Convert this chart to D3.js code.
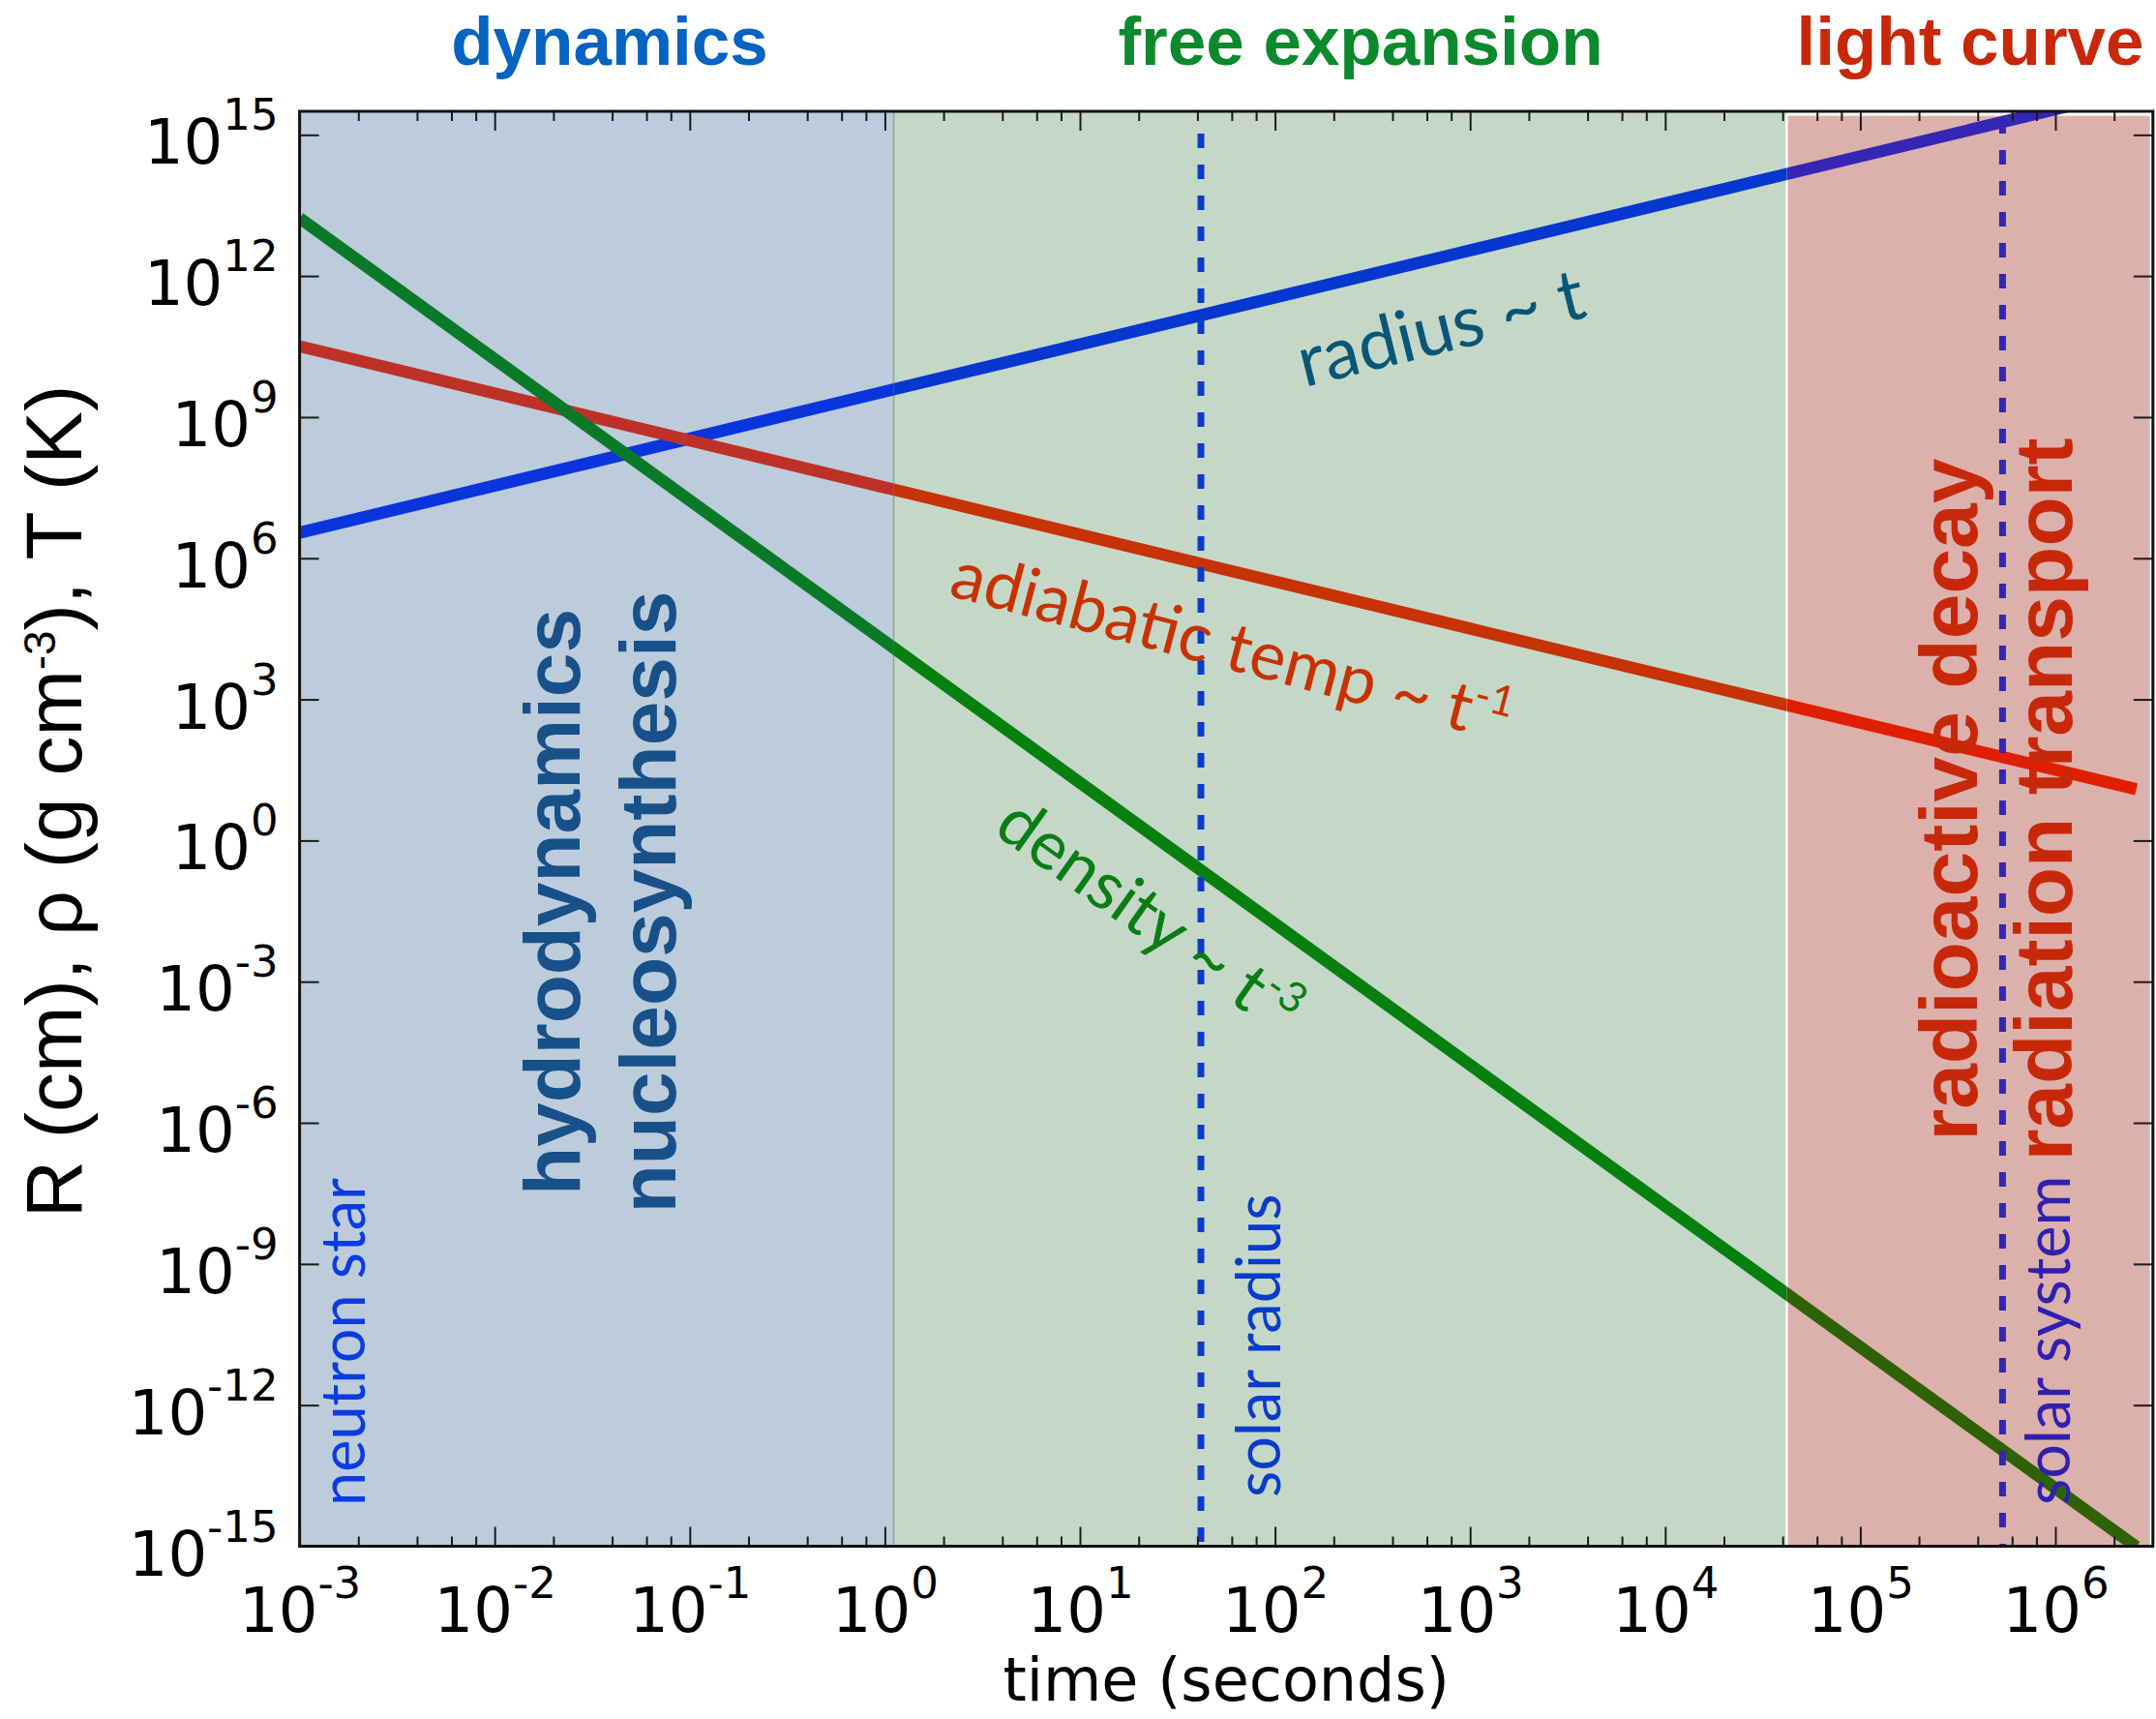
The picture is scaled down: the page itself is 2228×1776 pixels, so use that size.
<!DOCTYPE html>
<html>
<head>
<meta charset="utf-8">
<script src="https://cdn.jsdelivr.net/npm/d3@7"></script>
<style>
  html, body { margin: 0; padding: 0; background: #fff; }
  svg { display: block; }
</style>
</head>
<body>
<svg id="chart" width="2228" height="1776"></svg>
<script>
// Time grid (s) and the three expansion curves
const timeSec    = [1e-3, 1, 1e3, 2.6e6];
const radiusCm   = [3.5e6, 3.5e9, 3.5e12, 9.1e15];
const tempK      = [3.2e10, 3.2e7, 3.2e4, 12.3];
const densityGcc = [1.7e13, 1.7e4, 1.7e-5, 9.7e-16];

// Phases of the event (time spans, s)
const phaseNames = ["dynamics", "free expansion", "light curve"];
const phaseStart = [1e-3, 1.11, 4.2e4];
const phaseEnd   = [1.11, 4.2e4, 3.17e6];

// Size-scale markers: time at which the ejecta reach them (s)
const markerNames = ["solar radius", "solar system"];
const markerTimes = [41.7, 5.36e5];

// Axis ticks (powers of ten)
const xTickExp   = [-3, -2, -1, 0, 1, 2, 3, 4, 5, 6];
const xMinorMult = [2, 4, 6, 8];
const yTickExp   = [-15, -12, -9, -6, -3, 0, 3, 6, 9, 12, 15];

// ---------------------------------------------------------------
const svg = d3.select("#chart");
const L = 309.6, R = 2224.8, T = 115, B = 1597.5;

const x = d3.scaleLog().domain([1e-3, Math.pow(10, 6.5)]).range([L, R]);
const y = d3.scaleLog().domain([1e-15, Math.pow(10, 15.5)]).range([B, T]);

const phaseFill   = ["#bdccdb", "#c5d8c8", "#dcb1ac"];
const phaseTitleC = ["#0563c1", "#0a8a2c", "#c8280a"];
const phaseTitleX = [630, 1406, 2036];

const series = [
  { name: "radius",  values: radiusCm,   colors: ["#0a35dc", "#0637d0", "#3526b4"] },
  { name: "temp",    values: tempK,      colors: ["#be3128", "#c73206", "#e01f02"] },
  { name: "density", values: densityGcc, colors: ["#0b7a28", "#07800f", "#2f6206"] }
];

const defs = svg.append("defs");
const xClamp = v => Math.max(L, Math.min(R, x(v)));

// clip regions, one per phase
phaseNames.forEach((p, i) => {
  defs.append("clipPath").attr("id", "clip" + i)
    .append("rect")
    .attr("x", xClamp(phaseStart[i]))
    .attr("y", T)
    .attr("width", xClamp(phaseEnd[i]) - xClamp(phaseStart[i]))
    .attr("height", B - T);
});

// phase backgrounds
const bg = svg.append("g");
phaseNames.forEach((p, i) => {
  const x0 = xClamp(phaseStart[i]), x1 = xClamp(phaseEnd[i]);
  if (i < 2) {
    bg.append("rect").attr("x", x0).attr("y", T).attr("width", x1 - x0).attr("height", B - T)
      .attr("fill", phaseFill[i]);
  } else {
    bg.append("rect").attr("x", x0).attr("y", T + 3.5).attr("width", x1 - x0 - 2).attr("height", B - T - 3)
      .attr("fill", phaseFill[i]).attr("stroke", "#ffffff").attr("stroke-width", 2.2);
  }
});
// thin seam between the first two phases
bg.append("line")
  .attr("x1", x(phaseEnd[0])).attr("x2", x(phaseEnd[0]))
  .attr("y1", T).attr("y2", B)
  .attr("stroke", "#8ea8a0").attr("stroke-width", 1.6);

// phase titles above the frame
phaseNames.forEach((p, i) => {
  svg.append("text")
    .attr("x", phaseTitleX[i]).attr("y", 67)
    .attr("text-anchor", "middle")
    .attr("font-family", "'Liberation Sans', Arial, sans-serif")
    .attr("font-weight", "bold")
    .attr("font-size", 71)
    .attr("fill", phaseTitleC[i])
    .text(p);
});

// curves, coloured per phase
const line = d3.line().x(d => x(d.t)).y(d => y(d.v));
const curves = svg.append("g");
series.forEach(s => {
  const pts = timeSec.map((t, k) => ({ t: t, v: s.values[k] }));
  phaseNames.forEach((p, i) => {
    curves.append("path")
      .attr("d", line(pts))
      .attr("clip-path", `url(#clip${i})`)
      .attr("fill", "none")
      .attr("stroke", s.colors[i])
      .attr("stroke-width", 12.5);
  });
});

// dashed size-scale markers
const markerColor = ["#0a3ccc", "#3226b2"];
const markerTop   = [138, 123];
markerTimes.forEach((t, i) => {
  svg.append("line")
    .attr("x1", x(t)).attr("x2", x(t))
    .attr("y1", markerTop[i]).attr("y2", B)
    .attr("stroke", markerColor[i])
    .attr("stroke-width", 7)
    .attr("stroke-dasharray", "15 17");
});

// ---------------------------------------------------------------
// annotations
const gill = "Lato, 'Open Sans', sans-serif";
const helv = "'Liberation Sans', Arial, sans-serif";

function vtext(txt, bx, cy, opts) {
  const t = svg.append("text")
    .attr("transform", `translate(${bx},${cy}) rotate(-90)`)
    .attr("text-anchor", opts.anchor || "middle")
    .attr("font-family", opts.family)
    .attr("font-size", opts.size)
    .attr("font-weight", opts.weight || "normal")
    .attr("fill", opts.color)
    .text(txt);
  return t;
}

vtext("neutron star", 377, 1556, { anchor: "start", family: gill, size: 63, color: "#0a3ce0" });
vtext(markerNames[0], 1323, 1547, { anchor: "start", family: gill, size: 63, color: "#0a3ccc" });
vtext(markerNames[1], 2139, 1555, { anchor: "start", family: gill, size: 63, color: "#3020b0" });

vtext("hydrodynamics", 599, 932, { family: helv, size: 82, weight: "bold", color: "#18508a" });
vtext("nucleosynthesis", 698, 932, { family: helv, size: 82, weight: "bold", color: "#18508a" });
vtext("radioactive decay", 2043, 826, { family: helv, size: 84, weight: "bold", color: "#c8280a" });
vtext("radiation transport", 2141, 826, { family: helv, size: 84, weight: "bold", color: "#c8280a" });

function slanted(x0, y0, angle, size, color, main, sup) {
  const t = svg.append("text")
    .attr("transform", `translate(${x0},${y0}) rotate(${angle})`)
    .attr("font-family", gill)
    .attr("font-size", size)
    .attr("fill", color);
  t.append("tspan").text(main);
  if (sup) {
    t.append("tspan").attr("dy", -size * 0.38).attr("font-size", size * 0.62).text(sup);
  }
  return t;
}
slanted(1348, 400, -13.9, 74, "#0a5676", "radius ~ t");
slanted(979, 615, 14.8, 70, "#c83200", "adiabatic temp ~ t", "-1");
slanted(1025, 860, 35.4, 70, "#0a7e14", "density ~ t", "-3");

// ---------------------------------------------------------------
// axes
const tickStroke = g => {
  g.select(".domain").remove();
  g.selectAll(".tick line").attr("stroke", "#1a1a1a").attr("stroke-width", 2);
};

const xMinor = [];
xTickExp.forEach(e => xMinorMult.forEach(m => { const v = m * Math.pow(10, e); if (v < x.domain()[1]) xMinor.push(v); }));

const xMajorVals = xTickExp.map(e => Math.pow(10, e));
const yMajorVals = yTickExp.map(e => Math.pow(10, e));

// bottom
const gxb = svg.append("g").attr("transform", `translate(0,${B})`)
  .call(d3.axisBottom(x).tickValues(xMajorVals).tickSizeInner(-20).tickSizeOuter(0).tickFormat(() => ""))
  .call(tickStroke);
svg.append("g").attr("transform", `translate(0,${B})`)
  .call(d3.axisBottom(x).tickValues(xMinor).tickSizeInner(-10).tickSizeOuter(0).tickFormat(() => ""))
  .call(tickStroke).selectAll("text").remove();
// top
svg.append("g").attr("transform", `translate(0,${T})`)
  .call(d3.axisTop(x).tickValues(xMajorVals).tickSizeInner(-20).tickSizeOuter(0).tickFormat(() => ""))
  .call(tickStroke).selectAll("text").remove();
svg.append("g").attr("transform", `translate(0,${T})`)
  .call(d3.axisTop(x).tickValues(xMinor).tickSizeInner(-10).tickSizeOuter(0).tickFormat(() => ""))
  .call(tickStroke).selectAll("text").remove();
// left
const gyl = svg.append("g").attr("transform", `translate(${L},0)`)
  .call(d3.axisLeft(y).tickValues(yMajorVals).tickSizeInner(-20).tickSizeOuter(0).tickFormat(() => ""))
  .call(tickStroke);
// right
svg.append("g").attr("transform", `translate(${R},0)`)
  .call(d3.axisRight(y).tickValues(yMajorVals).tickSizeInner(-20).tickSizeOuter(0).tickFormat(() => ""))
  .call(tickStroke).selectAll("text").remove();

// power-of-ten tick labels
function powLabel(sel, expOf, xOff, yOff, anchor) {
  sel.selectAll(".tick text").each(function (d) {
    const t = d3.select(this);
    t.text(null)
      .attr("x", xOff).attr("y", yOff).attr("dy", null)
      .attr("text-anchor", anchor)
      .attr("font-family", "'DejaVu Sans', sans-serif")
      .attr("fill", "#000");
    t.append("tspan").attr("font-size", 64).text("10");
    t.append("tspan").attr("font-size", 45).attr("dy", -35).text(String(expOf(d)));
  });
}
powLabel(gxb, d => Math.round(Math.log10(d)), 0, 88, "middle");
powLabel(gyl, d => Math.round(Math.log10(d)), -22, 29.5, "end");

// frame
svg.append("rect")
  .attr("x", L).attr("y", T).attr("width", R - L).attr("height", B - T)
  .attr("fill", "none").attr("stroke", "#111").attr("stroke-width", 3);

// axis titles
svg.append("text")
  .attr("x", (L + R) / 2).attr("y", 1757)
  .attr("text-anchor", "middle")
  .attr("font-family", "'DejaVu Sans', sans-serif")
  .attr("font-size", 62)
  .attr("fill", "#000")
  .text("time (seconds)");

const yl = svg.append("text")
  .attr("transform", "translate(84,828) rotate(-90)")
  .attr("text-anchor", "middle")
  .attr("font-family", helv)
  .attr("font-size", 82)
  .attr("fill", "#000");
yl.append("tspan").text("R (cm), \u03c1 (g cm");
yl.append("tspan").attr("font-size", 46).attr("dy", -27).text("-3");
yl.append("tspan").attr("dy", 27).text("), T (K)");
</script>
</body>
</html>
